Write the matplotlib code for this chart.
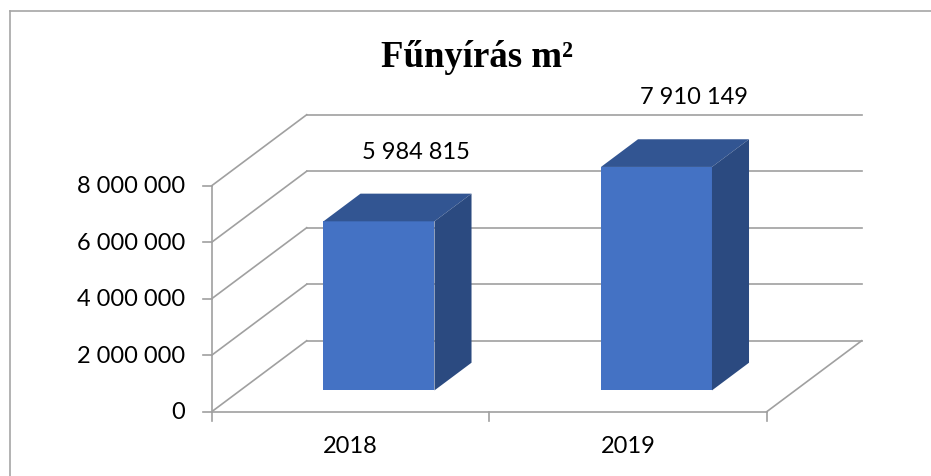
import numpy as np
import matplotlib
matplotlib.use("Agg")
import matplotlib.pyplot as plt
from matplotlib.patches import Polygon
from matplotlib.lines import Line2D

# datos
years = ["2018", "2019"]
values = [5984815, 7910149]
value_labels = ["5 984 815", "7 910 149"]
yticks = [0, 2000000, 4000000, 6000000, 8000000]
ytick_labels = ["0", "2 000 000", "4 000 000", "6 000 000", "8 000 000"]
title = "Fűnyírás m²"

# geometria del falso 3D (en unidades de datos)
DX = 0.3423      # profundidad en x (categorias)
DY = 2.513e6     # profundidad en y (valor)
f0, f1 = 0.30, 0.69
bw = 0.4
front = "#4472C4"
top = "#325592"
side = "#2B4A80"
grid = "#A0A0A0"

fig = plt.figure(figsize=(9.31, 4.77), dpi=100)
ax = fig.add_axes([0, 0, 1, 1])
ax.set_xlim(-0.763, 2.592)
ax.set_ylim(-2.276e6, 14.609e6)
ax.axis("off")

n = len(years)
# lineas de la cuadricula (pared izquierda + pared del fondo)
for v in yticks:
    ax.plot([0, DX], [v, v + DY], color=grid, lw=1.2, zorder=1)
    ax.plot([DX, n + DX], [v + DY, v + DY], color=grid, lw=1.2, zorder=1)
    ax.plot([-0.0324, 0], [v, v], color=grid, lw=1.2, zorder=1)
# eje vertical y suelo
ax.plot([0, 0], [0, yticks[-1]], color=grid, lw=1.2, zorder=1)
ax.plot([0, n], [0, 0], color=grid, lw=1.2, zorder=1)
ax.plot([n, n + DX], [0, DY], color=grid, lw=1.2, zorder=1)
for i in range(n + 1):
    ax.plot([i, i], [0, -0.32e6], color=grid, lw=1.2, zorder=1)

for v, lab in zip(yticks, ytick_labels):
    ax.annotate(lab, (0, v), xytext=(-19.2, 0), textcoords="offset points",
                ha="right", va="center", fontsize=17, family="Lato")

# barras
xs = np.arange(n) + 0.5
ax.bar(xs + f0 * DX, values, width=bw, bottom=f0 * DY, color=front, zorder=3)
d = f1 - f0
for x, v, lab in zip(xs, values, value_labels):
    x0 = x + f0 * DX - bw / 2
    x1 = x0 + bw
    b = f0 * DY
    t = b + v
    ax.add_patch(Polygon([(x0, t), (x1, t), (x1 + d * DX, t + d * DY), (x0 + d * DX, t + d * DY)],
                         closed=True, facecolor=top, edgecolor="none", zorder=3))
    ax.add_patch(Polygon([(x1, b), (x1 + d * DX, b + d * DY), (x1 + d * DX, t + d * DY), (x1, t)],
                         closed=True, facecolor=side, edgecolor="none", zorder=3))
    ax.annotate(lab, (x + f1 * DX, f1 * DY + v), xytext=(0, 30.5), textcoords="offset points",
                ha="center", va="center", fontsize=17, family="Lato")

for x, yr in zip(xs, years):
    ax.annotate(yr, (x, 0), xytext=(0, -24.5), textcoords="offset points",
                ha="center", va="center", fontsize=17, family="Lato")

fig.text(477 / 931, 1 - 67 / 477, title, ha="center", va="baseline", fontsize=26.5,
         family="Liberation Serif", fontweight="bold")

# marco del grafico
fig.add_artist(Line2D([10 / 931, 10 / 931], [0, 1 - 12 / 477], color="#A6A6A6", lw=1.2))
fig.add_artist(Line2D([10 / 931, 1], [1 - 12 / 477, 1 - 12 / 477], color="#A6A6A6", lw=1.2))

fig.savefig("out.png", dpi=100)
